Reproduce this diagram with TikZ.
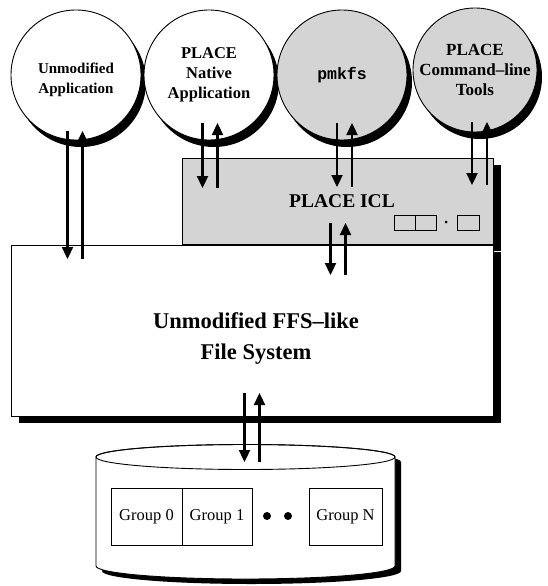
\documentclass[tikz,border=0pt]{standalone}
\usepackage{fontspec}
\setmainfont{Liberation Serif}
\newfontfamily\monofont{Liberation Mono}
\usetikzlibrary{arrows.meta, positioning, shadows}

% pair of opposite arrows between two points
\newcommand{\twoway}[2]{%
  \draw[flow] ([xshift=-7.5pt]#1) -- ([xshift=-7.5pt]#2);
  \draw[flow] ([xshift=7.5pt]#2) -- ([xshift=7.5pt]#1);}

\begin{document}
\begin{tikzpicture}[
  x=1pt, y=-1pt,
  speckle/.style={fill=black!17},
  appcircle/.style={circle, draw, line width=0.9pt, fill=white,
              minimum size=130pt, inner sep=0pt, align=center,
              font=\fontsize{16.5}{20}\selectfont\bfseries,
              drop shadow={shadow xshift=5pt, shadow yshift=-7pt, fill=black, opacity=1}},
  layerbox/.style={rectangle, draw, line width=0.9pt, fill=white, inner sep=0pt,
              drop shadow={shadow xshift=8pt, shadow yshift=-7pt, fill=black, opacity=1}},
  groupbox/.style={rectangle, draw, line width=0.7pt, fill=white,
              minimum height=57pt, inner sep=0pt,
              font=\fontsize{16.5}{20}\selectfont},
  slotbox/.style={rectangle, draw, line width=0.8pt, speckle,
              minimum width=21pt, minimum height=15pt, inner sep=0pt},
  flow/.style={line width=2.3pt, -{Triangle[length=12pt, width=11pt]}}
]
\useasboundingbox (0,0) rectangle (547,586);

% applications
\node[appcircle] (app) at (76,75) {};
\node[align=center, font=\fontsize{15}{20}\selectfont\bfseries] (applabel) at (76,80)
  {Unmodified\\Application};
\node[appcircle] (native) at (209,75) {PLACE\\Native\\Application};
\node[appcircle, speckle, font=\fontsize{16.5}{20}\selectfont\monofont\bfseries] (mkfs) at (342,75) {pmkfs};
\node[appcircle, speckle, minimum size=124pt, font=\fontsize{17}{20}\selectfont\bfseries] (tools) at (475,70)
  {PLACE\\Command--line\\Tools};

% layers
\node[layerbox, speckle, minimum width=311pt, minimum height=86pt] (icl) at (337.5,201) {};
\node[font=\fontsize{19.5}{24}\selectfont\bfseries] (icllabel) at (342,201) {PLACE ICL};
\node[slotbox] (slot0) at (404.5,222.5) {};
\node[slotbox] (slot1) at (425.5,222.5) {};
\node[circle, fill, minimum size=3pt, inner sep=0pt] (slotdot) at (446,222) {};
\node[slotbox, minimum width=22pt] (slotn) at (468,222.5) {};

\node[layerbox, minimum width=482pt, minimum height=171pt] (fs) at (252,330.5) {};
\node[align=center, font=\fontsize{22.5}{31}\selectfont\bfseries] (fslabel) at (256,339)
  {Unmodified FFS--like\\File System};

% disk
\fill[black, shift={(6pt,-5pt)}] (96,457) -- (96,566)
  arc[start angle=180, end angle=360, x radius=149.5pt, y radius=13pt] -- (395,457)
  arc[start angle=0, end angle=180, x radius=149.5pt, y radius=12.5pt] -- cycle;
\filldraw[fill=white, line width=0.9pt] (96,457) -- (96,566)
  arc[start angle=180, end angle=360, x radius=149.5pt, y radius=13pt] -- (395,457)
  arc[start angle=0, end angle=180, x radius=149.5pt, y radius=12.5pt] -- cycle;
\draw[line width=0.9pt] (245.5,457) ellipse[x radius=149.5pt, y radius=12.5pt];

\node[groupbox, minimum width=71pt] (g0) at (146.5,516.5) {Group 0};
\node[groupbox, minimum width=70pt] (g1) at (217,516.5) {Group 1};
\node[circle, fill, minimum size=8pt, inner sep=0pt] (dot1) at (267,516) {};
\node[circle, fill, minimum size=8pt, inner sep=0pt] (dot2) at (288,516) {};
\node[groupbox, minimum width=73pt] (gn) at (345.5,516.5) {Group N};

% arrow ends
\coordinate (app-top) at (75,131);
\coordinate (app-bot) at (75,259);
\coordinate (native-top) at (210,123);
\coordinate (native-bot) at (210,188);
\coordinate (mkfs-top) at (344.5,123);
\coordinate (mkfs-bot) at (344.5,187);
\coordinate (tools-top) at (479.5,122);
\coordinate (tools-bot) at (479.5,185);
\coordinate (icl-bot) at (338,223);
\coordinate (fs-top) at (338,275);
\coordinate (fs-bot) at (252,393);
\coordinate (disk-top) at (252,462);

\twoway{app-top}{app-bot}
\twoway{native-top}{native-bot}
\twoway{mkfs-top}{mkfs-bot}
\twoway{tools-top}{tools-bot}
\twoway{icl-bot}{fs-top}
\twoway{fs-bot}{disk-top}

\end{tikzpicture}
\end{document}
